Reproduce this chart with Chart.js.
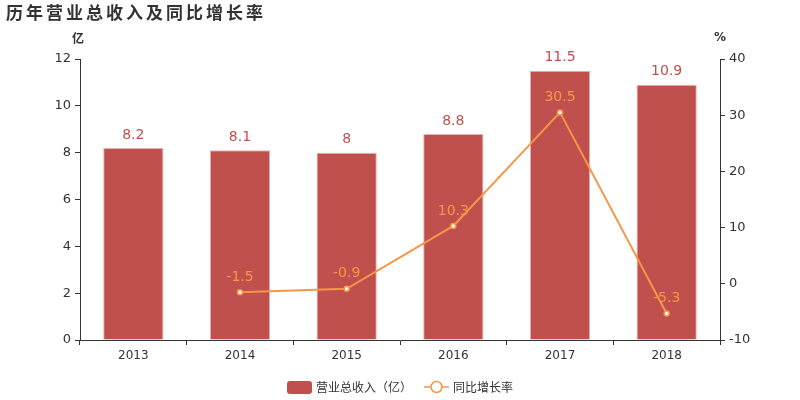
<!DOCTYPE html>
<html>
<head>
<meta charset="utf-8">
<script src="https://cdn.jsdelivr.net/npm/chart.js@4/dist/chart.umd.min.js"></script>
<style>
  html, body { margin: 0; padding: 0; background: #fff; }
  #wrap { width: 800px; height: 400px; position: relative; }
</style>
</head>
<body>
<div id="wrap"><canvas id="c" width="800" height="400"></canvas></div>
<script>
// DATA
const years = ["2013", "2014", "2015", "2016", "2017", "2018"];
const revenue = [8.2, 8.1, 8, 8.8, 11.5, 10.9];
const growth = [null, -1.5, -0.9, 10.3, 30.5, -5.3];

const BAR = "#c0504d";
const LINE = "#f79646";
const FONT = "'DejaVu Sans', 'Noto Sans CJK SC', sans-serif";
const CJK = "'Noto Sans CJK SC', 'DejaVu Sans', sans-serif";

// title, axis units, value labels, legend
const extras = {
  id: "extras",
  afterDraw(chart) {
    const c = chart.ctx;
    c.save();
    c.textBaseline = "middle";

    // title
    c.fillStyle = "#333";
    c.font = "bold 17px " + CJK;
    c.textAlign = "left";
    c.letterSpacing = "3px";
    c.fillText("历年营业总收入及同比增长率", 6, 13);
    c.letterSpacing = "0px";

    // axis units
    c.font = "bold 12px " + CJK;
    c.textAlign = "center";
    c.fillText("亿", 78, 38);
    c.font = "bold 12px " + FONT;
    c.fillText("%", 720, 38);

    // bar labels
    c.font = "14px " + FONT;
    c.fillStyle = BAR;
    chart.getDatasetMeta(1).data.forEach((el, i) => {
      c.fillText(String(revenue[i]), el.x, el.y - 13);
    });

    // line labels
    c.fillStyle = LINE;
    chart.getDatasetMeta(0).data.forEach((el, i) => {
      if (growth[i] === null) return;
      c.fillText(String(growth[i]), el.x, el.y - 15);
    });

    // legend
    const ly = 387;
    c.fillStyle = BAR;
    c.beginPath();
    c.roundRect(287, ly - 6, 25, 13, 3);
    c.fill();
    c.fillStyle = "#333";
    c.font = "12px " + CJK;
    c.textAlign = "left";
    c.fillText("营业总收入（亿）", 316, ly);

    c.strokeStyle = LINE;
    c.lineWidth = 1.5;
    c.beginPath();
    c.moveTo(424, ly);
    c.lineTo(449, ly);
    c.stroke();
    c.fillStyle = "#fff";
    c.beginPath();
    c.arc(436.5, ly, 5.5, 0, Math.PI * 2);
    c.fill();
    c.stroke();
    c.fillStyle = "#333";
    c.fillText("同比增长率", 453, ly);

    c.restore();
  }
};

new Chart(document.getElementById("c"), {
  data: {
    labels: years,
    datasets: [
      {
        type: "line",
        label: "同比增长率",
        data: growth,
        yAxisID: "y1",
        borderColor: LINE,
        borderWidth: 2,
        backgroundColor: "#fff",
        pointBackgroundColor: "#fff",
        pointBorderColor: LINE,
        pointBorderWidth: 1.5,
        pointRadius: 2.5,
        tension: 0,
        spanGaps: false,
        order: 0
      },
      {
        type: "bar",
        label: "营业总收入（亿）",
        data: revenue,
        yAxisID: "y",
        backgroundColor: BAR,
        borderColor: "#e6b2b0",
        borderWidth: 1,
        barPercentage: 0.565,
        categoryPercentage: 1,
        order: 1
      }
    ]
  },
  options: {
    responsive: false,
    animation: false,
    layout: { padding: { left: 0, right: 0, top: 59, bottom: 0 } },
    plugins: {
      legend: { display: false },
      tooltip: { enabled: false }
    },
    scales: {
      x: {
        type: "category",
        offset: true,
        grid: { display: true, drawOnChartArea: false, offset: true, tickLength: 5, color: "#333" },
        border: { display: true, color: "#333" },
        ticks: { color: "#333", font: { size: 12, family: FONT }, padding: 4 },
        afterFit: s => { s.height = 60; }
      },
      y: {
        position: "left",
        min: 0,
        max: 12,
        grid: { display: true, drawOnChartArea: false, tickLength: 5, color: "#333" },
        border: { display: true, color: "#333" },
        ticks: { stepSize: 2, color: "#333", font: { size: 13, family: FONT }, padding: 4 },
        afterFit: s => { s.width = 80; }
      },
      y1: {
        position: "right",
        min: -10,
        max: 40,
        grid: { display: true, drawOnChartArea: false, tickLength: 5, color: "#333" },
        border: { display: true, color: "#333" },
        ticks: { stepSize: 10, color: "#333", font: { size: 13, family: FONT }, padding: 4 },
        afterFit: s => { s.width = 80; }
      }
    }
  },
  plugins: [extras]
});
</script>
</body>
</html>
